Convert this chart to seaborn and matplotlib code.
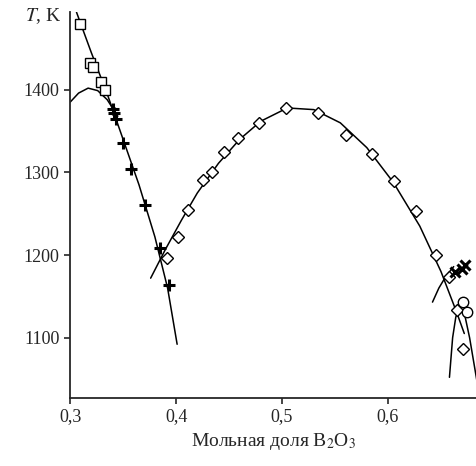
import numpy as np
import matplotlib.pyplot as plt
import seaborn as sns

sns.set_style("ticks")
plt.rcParams['font.family'] = ['Liberation Serif', 'DejaVu Serif']
plt.rcParams['mathtext.fontset'] = 'stix'

# experimental points
sq_x = [0.309, 0.319, 0.322, 0.329, 0.333]
sq_t = [1480, 1433, 1428, 1410, 1400]
plus_x = [0.340, 0.341, 0.343, 0.350, 0.357, 0.371, 0.385, 0.393]
plus_t = [1377, 1372, 1365, 1336, 1304, 1261, 1208, 1164]
dia_x = [0.391, 0.402, 0.411, 0.425, 0.434, 0.445, 0.458, 0.478, 0.504, 0.534,
         0.560, 0.585, 0.606, 0.626, 0.645, 0.658, 0.665, 0.671]
dia_t = [1196, 1222, 1254, 1291, 1300, 1325, 1342, 1360, 1378, 1372,
         1345, 1322, 1289, 1253, 1200, 1174, 1134, 1086]
cross_x = [0.663, 0.670, 0.673]
cross_t = [1180, 1183, 1188]
circ_x = [0.671, 0.675]
circ_t = [1143, 1131]

# liquidus curves
a_x = [0.306, 0.320, 0.335, 0.350, 0.365, 0.380, 0.392, 0.401]
a_t = [1494, 1445, 1395, 1340, 1285, 1222, 1160, 1092]
b_x = [0.300, 0.308, 0.317, 0.326, 0.335, 0.345]
b_t = [1385, 1396, 1402, 1399, 1388, 1368]
c_x = [0.376, 0.390, 0.405, 0.420, 0.440, 0.460, 0.480, 0.505, 0.530, 0.555,
       0.580, 0.605, 0.630, 0.650, 0.665, 0.672]
c_t = [1172, 1207, 1242, 1275, 1311, 1340, 1362, 1378, 1376, 1360,
       1330, 1288, 1235, 1180, 1130, 1105]
d_x = [0.642, 0.648, 0.655, 0.662]
d_t = [1143, 1160, 1175, 1186]
e_x = [0.658, 0.661, 0.664, 0.668, 0.672, 0.677, 0.684]
e_t = [1052, 1100, 1125, 1137, 1130, 1100, 1047]

fig, ax = plt.subplots(figsize=(4.77, 4.66), dpi=100)
for cx, ct in [(a_x, a_t), (b_x, b_t), (c_x, c_t), (d_x, d_t), (e_x, e_t)]:
    sns.lineplot(x=cx, y=ct, ax=ax, color='black', lw=1.1, sort=False)

ax.plot(sq_x, sq_t, marker='s', ms=7.5, mfc='white', mec='black', mew=1, ls='none')
ax.plot(plus_x, plus_t, marker='+', ms=9, color='black', mew=2.2, ls='none')
ax.plot(dia_x, dia_t, marker='D', ms=6.5, mfc='white', mec='black', mew=1, ls='none')
ax.plot(cross_x, cross_t, marker='x', ms=7, color='black', mew=2.2, ls='none')
ax.plot(circ_x, circ_t, marker='o', ms=7.5, mfc='white', mec='black', mew=1, ls='none')

ax.set_xlim(0.3, 0.684)
ax.set_ylim(1027, 1494)
ax.set_xticks([0.3, 0.4, 0.5, 0.6])
ax.set_xticklabels(['0,3', '0,4', '0,5', '0,6'])
ax.set_yticks([1100, 1200, 1300, 1400])
ax.tick_params(labelsize=13, direction='out', length=4, width=1.2)
ax.set_xlabel('Мольная доля B$_2$O$_3$', fontsize=14)
ax.text(-0.02, 0.99, '$T$, K', transform=ax.transAxes, ha='right', va='center', fontsize=14)
for s in ['top', 'right']:
    ax.spines[s].set_visible(False)
ax.spines['left'].set_linewidth(1.3)
ax.spines['bottom'].set_linewidth(1.3)

fig.subplots_adjust(left=0.147, right=1.0, top=0.974, bottom=0.146)
fig.savefig('out.png', dpi=100, facecolor='white')
